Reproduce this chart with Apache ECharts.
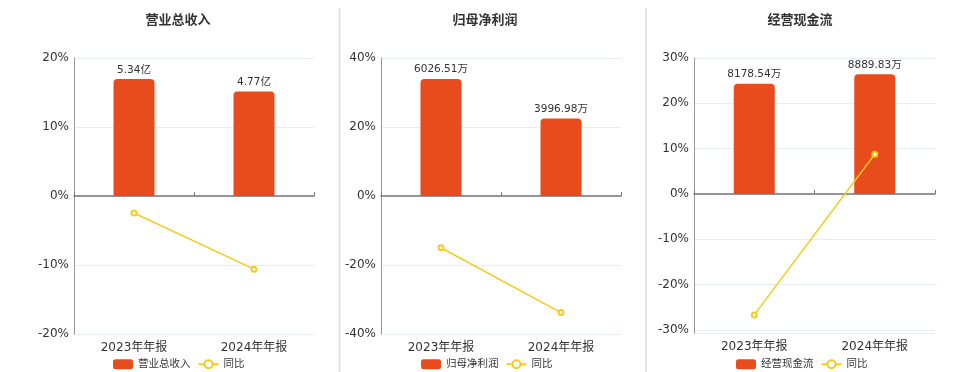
<!DOCTYPE html>
<html>
<head>
<meta charset="utf-8">
<script src="https://cdn.jsdelivr.net/npm/echarts@6/dist/echarts.min.js"></script>
<style>html,body{margin:0;padding:0;background:#fff;}#c{width:960px;height:372px;}</style>
</head>
<body>
<div id="c"></div>
<script>
const categories = ['2023年年报', '2024年年报'];
const titles = ['营业总收入', '归母净利润', '经营现金流'];
const units = ['亿', '万', '万'];
const revenue = [5.34, 4.77];
const revenueYoY = [-2.46, -10.6];
const profit = [6026.51, 3996.98];
const profitYoY = [-15.0, -33.8];
const cashflow = [8178.54, 8889.83];
const cashflowYoY = [-26.7, 8.74];
const yoyName = '同比';

const barValues = [revenue, profit, cashflow];
const yoyValues = [revenueYoY, profitYoY, cashflowYoY];

// layout per panel
const panels = [
  {left: 74, width: 240, top: 58, height: 276, pMin: -20, pMax: 20, interval: 10, bMin: -6.30, bMax: 6.30, cx: 173, legendLeft: 108},
  {left: 381, width: 240, top: 58, height: 276, pMin: -40, pMax: 40, interval: 20, bMin: -7108, bMax: 7108, cx: 480, legendLeft: 416},
  {left: 694, width: 241, top: 58, height: 275, pMin: -30.7, pMax: 30, interval: null, bMin: -10336, bMax: 10100, cx: 795, legendLeft: 731}
];

const FONT = "'DejaVu Sans', 'Noto Sans CJK SC', sans-serif";
const BAR = '#E84B1C';
const LINE = '#F4CB1E';

const option = {
  backgroundColor: '#fff',
  textStyle: {fontFamily: FONT},
  animation: false,
  title: [], grid: [], xAxis: [], yAxis: [], series: [], legend: [],
  graphic: [
    {type: 'line', shape: {x1: 339.5, y1: 8, x2: 339.5, y2: 372}, style: {stroke: '#d9d9d9', lineWidth: 1.5}},
    {type: 'line', shape: {x1: 646, y1: 8, x2: 646, y2: 372}, style: {stroke: '#d9d9d9', lineWidth: 1.5}}
  ]
};

panels.forEach((p, k) => {
  option.title.push({
    text: titles[k], left: p.cx, top: 9, textAlign: 'center',
    textStyle: {fontSize: 13, fontWeight: 'bold', color: '#333', fontFamily: FONT}
  });
  option.grid.push({left: p.left, width: p.width, top: p.top, height: p.height, containLabel: false});
  // bottom label axis
  option.xAxis.push({
    type: 'category', gridIndex: k, data: categories, position: 'bottom',
    axisLine: {show: false, onZero: false}, axisTick: {show: false},
    axisLabel: {fontSize: 12, color: '#333', margin: 8, fontFamily: FONT},
    splitLine: {show: false}
  });
  // zero line axis
  option.xAxis.push({
    type: 'category', gridIndex: k, data: categories,
    axisLine: {show: true, onZero: true, onZeroAxisIndex: 2 * k, lineStyle: {color: '#777', width: 1.5}},
    axisTick: {show: true, length: 4, lineStyle: {color: '#777'}},
    axisLabel: {show: false}, splitLine: {show: false}
  });
  const pct = {
    type: 'value', gridIndex: k, min: p.pMin, max: p.pMax,
    axisLine: {show: true, lineStyle: {color: '#999', width: 1}},
    axisTick: {show: false},
    axisLabel: {
      fontSize: 12, color: '#333', margin: 5, fontFamily: FONT,
      formatter: v => (Math.abs(v % 10) < 1e-9 ? Math.round(v) + '%' : '')
    },
    splitLine: {show: true, lineStyle: {color: '#E6EBF5', width: 1}}
  };
  if (p.interval) pct.interval = p.interval; else pct.splitNumber = 6;
  option.yAxis.push(pct);
  option.yAxis.push({type: 'value', gridIndex: k, min: p.bMin, max: p.bMax, show: false, splitLine: {show: false}});

  option.series.push({
    name: titles[k], type: 'bar', xAxisIndex: 2 * k, yAxisIndex: 2 * k + 1,
    data: barValues[k], barWidth: 41,
    itemStyle: {color: BAR, borderRadius: [4, 4, 0, 0]},
    label: {show: true, position: 'top', distance: 4, fontSize: 10.5, color: '#333', fontFamily: FONT,
      formatter: prm => prm.value + units[k]},
    z: 2
  });
  option.series.push({
    name: yoyName, type: 'line', xAxisIndex: 2 * k, yAxisIndex: 2 * k,
    data: yoyValues[k], symbol: 'emptyCircle', symbolSize: 5,
    lineStyle: {color: LINE, width: 1.5}, itemStyle: {color: LINE},
    z: 3
  });
  option.legend.push({
    left: p.legendLeft, top: 354, orient: 'horizontal',
    itemWidth: 20, itemHeight: 10, itemGap: 7,
    textStyle: {fontSize: 10.5, color: '#333', fontFamily: FONT},
    data: [titles[k], yoyName]
  });
});

const chart = echarts.init(document.getElementById('c'), null, {renderer: 'canvas'});
chart.setOption(option);
</script>
</body>
</html>
